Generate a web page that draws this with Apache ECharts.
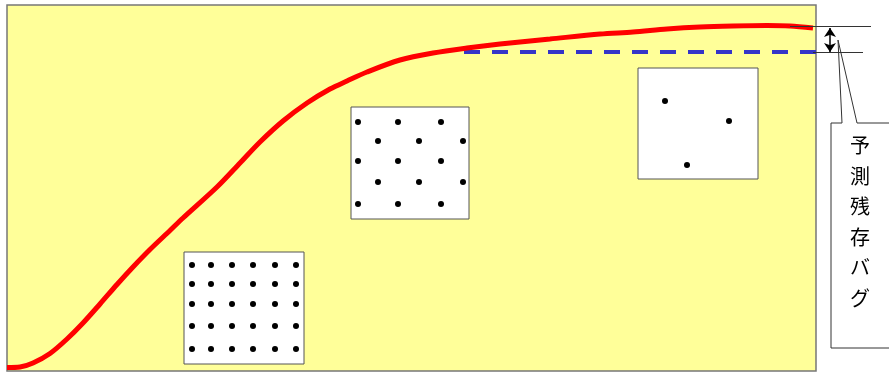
<!DOCTYPE html>
<html>
<head>
<meta charset="utf-8">
<script src="https://cdn.jsdelivr.net/npm/echarts@6/dist/echarts.min.js"></script>
<style>html,body{margin:0;padding:0;background:#fff}#c{width:889px;height:374px}</style>
</head>
<body>
<div id="c"></div>
<script>
// Growth curve of detected bugs (x: time, y: cumulative bugs)
var curve = [[0,3.5],[13,4],[26,8],[43,17.5],[60,32],[76,48],[93,67],[110,86.5],[126,104],[143,121.5],[163,140.5],[176,153],[210,184],[233,208],[253,229],[276,250],[300,268],[323,282],[340,290],[360,299],[393,311],[426,318],[460,323],[493,327],[543,332],[593,337],[626,339],[660,342],[693,344],[726,345],[760,345.5],[783,345],[806,343]];
// Predicted total (dashed asymptote)
var predicted = [[457,319],[809,319]];
// Boxes with dot samples: [x0, y0, x1, y1]
var boxes = [[177,7,297,119],[344,152,462,264],[631,192,751,303]];
var dots1 = [];
var dots1Cols = [185,204,225,246,268,289];
var dots1Rows = [106,87,67,45,22];
dots1Rows.forEach(function(y){dots1Cols.forEach(function(x){dots1.push([x,y]);});});
var dots2 = [[351,249],[391,249],[434,249],[371,230],[412,230],[456,230],[351,210],[391,210],[434,210],[371,189],[412,189],[456,189],[351,167],[391,167],[434,167]];
var dots3 = [[658,270],[722,250],[680,206]];
// Annotation geometry
var topLine = [[783,345],[864,345]];
var bottomLine = [[806,319],[856,319]];
var arrowLine = [[823,343],[823,319]];
var callout = [[895,248],[850,248],[831,331],[835,248],[824,248],[824,23],[895,23]];
var labelPos = [853,149];
var labelChars = ['予','測','残','存','バ','グ'];

var chart = echarts.init(document.getElementById('c'));
chart.setOption({
  animation: false,
  grid: {left: 7, top: 5, width: 809, height: 366, show: true, backgroundColor: '#FFFF99', borderColor: '#777', borderWidth: 1.5},
  xAxis: {type: 'value', min: 0, max: 809, show: false},
  yAxis: {type: 'value', min: 0, max: 366, show: false},
  series: [
    {type: 'custom', data: boxes, clip: false, z: 2, silent: true,
      renderItem: function(params, api){
        var p0 = api.coord([api.value(0), api.value(1)]);
        var p1 = api.coord([api.value(2), api.value(3)]);
        return {type: 'rect', shape: {x: p0[0], y: p1[1], width: p1[0]-p0[0], height: p0[1]-p1[1]},
          style: {fill: '#fff', stroke: '#555', lineWidth: 1}};
      }},
    {type: 'scatter', data: dots1.concat(dots2, dots3), symbolSize: 6, itemStyle: {color: '#000', opacity: 1}, z: 3, silent: true},
    {type: 'line', data: predicted, showSymbol: false, symbol: 'none', z: 4,
      lineStyle: {color: '#3535C8', width: 4, type: [16,12]}},
    {type: 'line', data: curve, smooth: 0.3, symbol: 'none', z: 5, clip: true,
      lineStyle: {color: '#FF0000', width: 5}},
    {type: 'lines', coordinateSystem: 'cartesian2d', clip: false, z: 6, symbol: 'none',
      lineStyle: {color: '#333', width: 1, opacity: 1},
      data: [{coords: topLine}, {coords: bottomLine}]},
    {type: 'lines', coordinateSystem: 'cartesian2d', clip: false, z: 6, symbol: ['arrow','arrow'], symbolSize: [9,9],
      lineStyle: {color: '#000', width: 1.5, opacity: 1},
      data: [{coords: arrowLine}]},
    {type: 'lines', coordinateSystem: 'cartesian2d', polyline: true, clip: false, z: 6, symbol: 'none',
      lineStyle: {color: '#333', width: 1, opacity: 1},
      data: [{coords: callout}]},
    {type: 'custom', data: [labelPos], clip: false, z: 7, silent: true,
      renderItem: function(params, api){
        var p = api.coord([api.value(0), api.value(1)]);
        var children = labelChars.map(function(ch, i){
          return {type: 'text', style: {text: ch, x: p[0], y: p[1] + (i - 2.5) * 30.5,
            fill: '#000', font: '20px "Noto Sans CJK JP", sans-serif', align: 'center', verticalAlign: 'middle'}};
        });
        return {type: 'group', children: children};
      }}
  ]
});
</script>
</body>
</html>
